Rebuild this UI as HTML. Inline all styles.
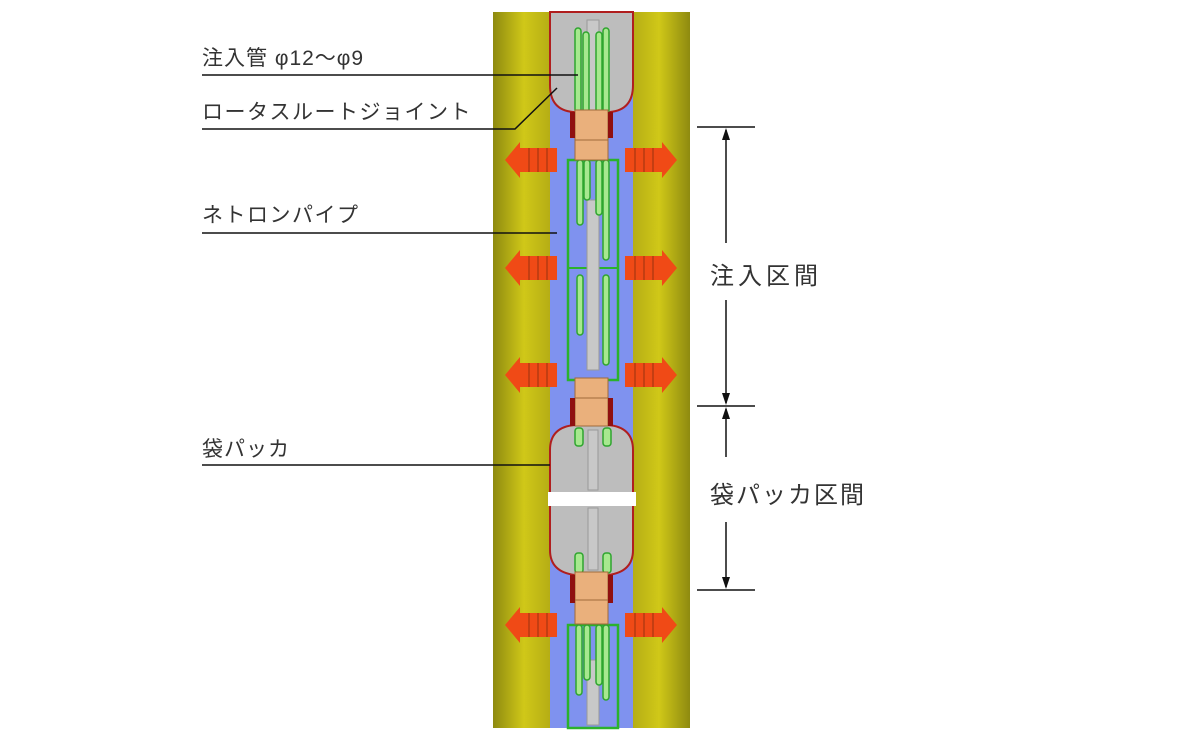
<!DOCTYPE html>
<html><head><meta charset="utf-8"><style>
html,body{margin:0;padding:0;background:#fff;width:1200px;height:742px;overflow:hidden}
svg text{font-family:"Liberation Sans","Noto Sans CJK JP",sans-serif;fill:#333}
</style></head><body>
<svg width="1200" height="742" viewBox="0 0 1200 742" xmlns="http://www.w3.org/2000/svg">
<defs>
<linearGradient id="yl" x1="0" x2="1">
<stop offset="0" stop-color="#8e8a10"/><stop offset="0.5" stop-color="#d0c818"/><stop offset="1" stop-color="#b0a814"/>
</linearGradient>
<linearGradient id="yr" x1="0" x2="1">
<stop offset="0" stop-color="#b0a814"/><stop offset="0.5" stop-color="#d0c818"/><stop offset="1" stop-color="#8e8a10"/>
</linearGradient>
<g id="arL">
<polygon points="0,0 15,-18 15,-12 52,-12 52,12 15,12 15,18" fill="#f04a16"/>
<g stroke="#b53a10" stroke-width="1.5"><line x1="24" y1="-12" x2="24" y2="12"/><line x1="33" y1="-12" x2="33" y2="12"/><line x1="42" y1="-12" x2="42" y2="12"/></g>
</g>
</defs>
<rect x="493" y="12" width="62" height="716" fill="url(#yl)"/>
<rect x="628" y="12" width="62" height="716" fill="url(#yr)"/>
<rect x="550" y="12" width="83" height="716" fill="#7f92ef"/>
<rect x="568" y="160" width="50" height="220" fill="none" stroke="#2bb22b" stroke-width="2.5"/>
<line x1="568" y1="268" x2="618" y2="268" stroke="#2bb22b" stroke-width="2"/>
<rect x="568" y="625" width="50" height="103" fill="none" stroke="#2bb22b" stroke-width="2.5"/>
<path d="M550,12 L633,12 L633,85 Q633,110 610,112 L573,112 Q550,110 550,85 Z" fill="#bdbdbd" stroke="#b01e1e" stroke-width="2"/>
<path d="M575,425 L608,425 Q633,427 633,450 L633,550 Q633,572 608,575 L575,575 Q550,572 550,550 L550,450 Q550,427 575,425 Z" fill="#bdbdbd" stroke="#b01e1e" stroke-width="2"/>
<rect x="548" y="492" width="88" height="14" fill="#fff"/>
<rect x="587" y="20" width="12" height="92" fill="#c8c8c8" stroke="#999"/>
<rect x="587" y="200" width="12" height="170" fill="#c8c8c8" stroke="#999"/>
<rect x="588" y="430" width="10" height="60" fill="#c8c8c8" stroke="#999"/>
<rect x="588" y="508" width="10" height="62" fill="#c8c8c8" stroke="#999"/>
<rect x="587" y="660" width="12" height="65" fill="#c8c8c8" stroke="#999"/>
<g fill="#a7e88f" stroke="#2ea52e" stroke-width="1.5">
<rect x="575" y="28" width="6" height="85" rx="3"/><rect x="583" y="32" width="6" height="81" rx="3"/>
<rect x="596" y="32" width="6" height="81" rx="3"/><rect x="603" y="28" width="6" height="85" rx="3"/>
<rect x="577" y="160" width="6" height="65" rx="3"/><rect x="584" y="160" width="6" height="40" rx="3"/>
<rect x="596" y="160" width="6" height="55" rx="3"/><rect x="603" y="160" width="6" height="100" rx="3"/>
<rect x="577" y="275" width="6" height="60" rx="3"/><rect x="603" y="275" width="6" height="90" rx="3"/>
<rect x="575" y="428" width="8" height="18" rx="3"/><rect x="603" y="428" width="8" height="18" rx="3"/>
<rect x="575" y="553" width="8" height="20" rx="3"/><rect x="603" y="553" width="8" height="20" rx="3"/>
<rect x="576" y="625" width="6" height="70" rx="3"/><rect x="584" y="625" width="6" height="55" rx="3"/>
<rect x="596" y="625" width="6" height="60" rx="3"/><rect x="603" y="625" width="6" height="75" rx="3"/>
</g>
<g fill="#eab07c" stroke="#a06a3a" stroke-width="1">
<rect x="575" y="110" width="33" height="50"/>
<rect x="575" y="378" width="33" height="48"/>
<rect x="575" y="572" width="33" height="52"/>
</g>
<g stroke="#a06a3a"><line x1="575" y1="140" x2="608" y2="140"/><line x1="575" y1="398" x2="608" y2="398"/><line x1="575" y1="600" x2="608" y2="600"/></g>
<g fill="#8f1010">
<rect x="570" y="112" width="5" height="26"/><rect x="608" y="112" width="5" height="26"/>
<rect x="570" y="398" width="5" height="28"/><rect x="608" y="398" width="5" height="28"/>
<rect x="570" y="575" width="5" height="28"/><rect x="608" y="575" width="5" height="28"/>
</g>
<use href="#arL" transform="translate(505,160)"/>
<use href="#arL" transform="translate(505,268)"/>
<use href="#arL" transform="translate(505,375)"/>
<use href="#arL" transform="translate(505,625)"/>
<use href="#arL" transform="translate(677,160) scale(-1,1)"/>
<use href="#arL" transform="translate(677,268) scale(-1,1)"/>
<use href="#arL" transform="translate(677,375) scale(-1,1)"/>
<use href="#arL" transform="translate(677,625) scale(-1,1)"/>
<g stroke="#111" stroke-width="1.5" fill="none">
<line x1="202" y1="75" x2="578" y2="75"/>
<polyline points="202,129 515,129 557,88"/>
<line x1="202" y1="233" x2="557" y2="233"/>
<line x1="202" y1="465" x2="550" y2="465"/>
<line x1="697" y1="127" x2="755" y2="127"/>
<line x1="697" y1="406" x2="755" y2="406"/>
<line x1="697" y1="590" x2="755" y2="590"/>
<line x1="726" y1="130" x2="726" y2="243"/>
<line x1="726" y1="300" x2="726" y2="403"/>
<line x1="726" y1="409" x2="726" y2="457"/>
<line x1="726" y1="522" x2="726" y2="587"/>
</g>
<g fill="#111">
<polygon points="726,128 722,140 730,140"/>
<polygon points="726,405 722,393 730,393"/>
<polygon points="726,407 722,419 730,419"/>
<polygon points="726,589 722,577 730,577"/>
</g>
<text x="202" y="65" font-size="21" letter-spacing="1">注入管 φ12～φ9</text>
<text x="202" y="119" font-size="21" letter-spacing="1.5">ロータスルートジョイント</text>
<text x="202" y="222" font-size="21" letter-spacing="1.5">ネトロンパイプ</text>
<text x="202" y="456" font-size="21" letter-spacing="1">袋パッカ</text>
<text x="710" y="284" font-size="24" letter-spacing="4">注入区間</text>
<text x="710" y="503" font-size="24" letter-spacing="2">袋パッカ区間</text>
</svg>
</body></html>
